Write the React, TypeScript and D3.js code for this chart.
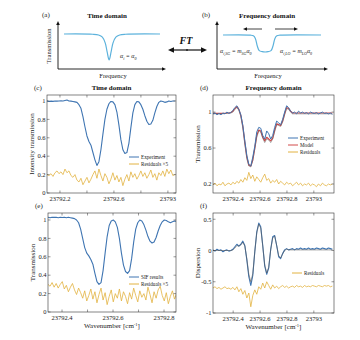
import React from 'react';
import * as d3 from 'd3';

const FONT = '"Liberation Serif", "Times New Roman", serif';
const BLUE = '#3f75b2';
const ORANGE = '#e2b240';
const RED = '#d24a4a';
const GRAY = '#5a5a5a';
const SCHEME = '#5cb2dc';

// schematic curves (normalised 0..1)
const aX = [0, 0.3, 0.36, 0.4, 0.43, 0.45, 0.47, 0.49, 0.51, 0.54, 0.58, 0.64, 1];
const aY = [1, 0.99, 0.96, 0.88, 0.65, 0.3, 0, 0.3, 0.65, 0.88, 0.96, 0.99, 1];
const bX = [0, 0.28, 0.31, 0.33, 0.35, 0.37, 0.4, 0.43, 0.46, 0.49, 0.51, 0.53, 0.55, 0.58, 1];
const bY = [1, 0.99, 0.95, 0.8, 0.35, 0.08, 0.02, 0, 0.02, 0.08, 0.35, 0.8, 0.95, 0.99, 1];

// (c) time domain
const cStart = 23792.104;
const cStep = 0.0148;
const cExperiment = [
  1.0, 0.995, 0.998, 0.996, 1.0, 0.998, 1.0, 1.003, 1.0, 1.005, 1.01, 1.0, 0.998, 0.995, 0.99, 0.985,
  0.96, 0.92, 0.83, 0.72, 0.62, 0.56, 0.52, 0.44, 0.36, 0.3, 0.34, 0.47, 0.64, 0.8, 0.91, 0.97,
  0.995, 0.99, 0.96, 0.88, 0.74, 0.58, 0.47, 0.43, 0.44, 0.54, 0.71, 0.87, 0.96, 0.995, 0.99, 0.96,
  0.91, 0.84, 0.78, 0.745, 0.75, 0.79, 0.87, 0.94, 0.985, 1.0, 0.995, 0.985, 0.99, 1.0, 0.995, 1.0, 1.0,
];
const cResiduals = [
  0.2, 0.19, 0.21, 0.18, 0.22, 0.24, 0.21, 0.23, 0.2, 0.26, 0.22, 0.24, 0.19, 0.17, 0.2, 0.14,
  0.12, 0.16, 0.09, 0.13, 0.17, 0.11, 0.15, 0.2, 0.24, 0.16, 0.26, 0.19, 0.13, 0.21, 0.17, 0.1,
  0.15, 0.22, 0.14, 0.19, 0.12, 0.17, 0.08, 0.15, 0.2, 0.13, 0.23, 0.17, 0.21, 0.15, 0.19, 0.24,
  0.18, 0.22, 0.16, 0.2, 0.25, 0.17, 0.21, 0.14, 0.22, 0.19, 0.24, 0.18, 0.26, 0.21, 0.25, 0.19, 0.2,
];

// (d) frequency domain, transmission
const dStart = 23792.25;
const dStep = 0.0148;
const dExperiment = [
  0.98, 0.99, 0.97, 0.985, 0.97, 0.99, 0.98, 1.0, 0.985, 0.995, 1.02, 1.05, 1.07, 1.03, 0.97, 0.85,
  0.68, 0.52, 0.42, 0.4, 0.5, 0.62, 0.78, 0.83, 0.82, 0.74, 0.7, 0.79, 0.76, 0.7, 0.74, 0.83,
  0.9, 0.88, 0.86, 0.92, 1.0, 1.07, 1.05, 1.01, 0.99, 1.0, 0.98, 1.01, 0.99, 1.0, 0.985, 0.995,
  0.98, 1.0, 0.99, 0.985, 0.995, 0.98, 0.99, 1.0, 0.985, 0.99, 0.98, 0.99, 0.975,
];
const dModel = [
  0.985, 0.985, 0.985, 0.985, 0.985, 0.985, 0.985, 0.99, 0.99, 0.995, 1.01, 1.04, 1.06, 1.03, 0.96, 0.84,
  0.66, 0.5, 0.41, 0.4, 0.47, 0.6, 0.74, 0.8, 0.79, 0.72, 0.68, 0.72, 0.7, 0.68, 0.71, 0.8,
  0.87, 0.86, 0.85, 0.9, 0.98, 1.05, 1.04, 1.01, 0.99, 0.99, 0.99, 0.99, 0.99, 0.99, 0.99, 0.99,
  0.99, 0.99, 0.99, 0.99, 0.99, 0.99, 0.99, 0.99, 0.99, 0.99, 0.99, 0.99, 0.99,
];
const dFit = [
  0.98, 0.98, 0.98, 0.98, 0.98, 0.98, 0.985, 0.985, 0.99, 0.99, 1.0, 1.03, 1.05, 1.02, 0.95, 0.82,
  0.64, 0.48, 0.4, 0.39, 0.46, 0.59, 0.72, 0.79, 0.78, 0.71, 0.66, 0.7, 0.69, 0.66, 0.7, 0.78,
  0.86, 0.85, 0.84, 0.89, 0.97, 1.04, 1.03, 1.0, 0.98, 0.98, 0.98, 0.98, 0.98, 0.98, 0.98, 0.98,
  0.98, 0.98, 0.98, 0.98, 0.98, 0.98, 0.98, 0.98, 0.98, 0.98, 0.98, 0.98, 0.98,
];
const dResiduals = [
  0.19, 0.21, 0.18, 0.2, 0.19, 0.22, 0.18, 0.2, 0.21, 0.19, 0.22, 0.2, 0.23, 0.21, 0.25, 0.22,
  0.27, 0.24, 0.33, 0.26, 0.3, 0.23, 0.28, 0.25, 0.22, 0.27, 0.31, 0.24, 0.26, 0.21, 0.24, 0.22,
  0.25, 0.2, 0.23, 0.21, 0.19, 0.22, 0.2, 0.21, 0.18, 0.2, 0.22, 0.19, 0.21, 0.18, 0.2, 0.19,
  0.21, 0.18, 0.2, 0.19, 0.17, 0.2, 0.18, 0.21, 0.19, 0.18, 0.2, 0.19, 0.2,
];

// (e) SIF results
const eStart = 23792.345;
const eStep = 0.008;
const eSif = [
  1.03, 1.025, 1.03, 1.028, 1.03, 1.025, 1.03, 1.027, 1.03, 1.025, 1.03, 1.025, 1.02, 1.015, 1.0, 0.97,
  0.9, 0.8, 0.7, 0.64, 0.61, 0.57, 0.52, 0.42, 0.33, 0.3, 0.32, 0.45, 0.64, 0.82, 0.94, 0.99,
  1.0, 0.98, 0.92, 0.8, 0.64, 0.51, 0.44, 0.42, 0.45, 0.58, 0.76, 0.9, 0.97, 1.0, 0.99, 0.95,
  0.89, 0.82, 0.77, 0.75, 0.76, 0.81, 0.88, 0.94, 0.98, 1.0, 0.995, 0.98, 0.97, 0.98, 0.99, 0.985,
];
const eResiduals = [
  0.3, 0.28, 0.32, 0.27, 0.31, 0.26, 0.3, 0.33, 0.25, 0.29, 0.22, 0.27, 0.31, 0.24, 0.19, 0.26,
  0.21, 0.15, 0.23, 0.12, 0.18, 0.25, 0.14, 0.22, 0.1, 0.19, 0.26, 0.13, 0.21, 0.08, 0.17, 0.24,
  0.11, 0.2, 0.15, 0.25, 0.12, 0.22, 0.17, 0.09, 0.21, 0.14, 0.26, 0.18, 0.11, 0.23, 0.16, 0.2,
  0.13, 0.27, 0.19, 0.1, 0.22, 0.15, 0.24, 0.28, 0.18, 0.12, 0.21, 0.09, 0.17, 0.23, 0.14, 0.2,
];

// (f) dispersion
const fExperiment = [
  0.01, -0.01, 0.02, 0.0, 0.01, -0.02, 0.0, 0.01, -0.01, 0.0, 0.02, 0.06, 0.1, 0.07, 0.1, 0.15,
  0.08, -0.15, -0.42, -0.56, -0.4, -0.02, 0.3, 0.44, 0.38, 0.08, -0.25, -0.38, -0.28, 0.02, 0.22, 0.24,
  0.08, -0.1, -0.13, -0.05, 0.01, 0.03, 0.01, 0.02, 0.03, 0.01, 0.03, 0.02, 0.04, 0.02, 0.03, 0.02,
  0.04, 0.02, 0.03, 0.02, 0.04, 0.03, 0.02, 0.04, 0.03, 0.02, 0.04, 0.03, 0.02,
];
const fModel = [
  0, 0, 0, 0, 0, 0, 0, 0, 0, 0, 0.01, 0.04, 0.08, 0.07, 0.09, 0.13,
  0.07, -0.13, -0.38, -0.5, -0.37, -0.02, 0.28, 0.42, 0.36, 0.07, -0.23, -0.36, -0.27, 0.01, 0.2, 0.23,
  0.08, -0.08, -0.12, -0.05, 0.0, 0.02, 0.01, 0.01, 0.01, 0.01, 0.01, 0.01, 0.01, 0.01, 0.01, 0.01,
  0.01, 0.01, 0.01, 0.01, 0.01, 0.01, 0.01, 0.01, 0.01, 0.01, 0.01, 0.01, 0.01,
];
const fResiduals = [
  -0.6, -0.58, -0.61, -0.59, -0.62, -0.6, -0.58, -0.61, -0.6, -0.62, -0.59, -0.63, -0.58, -0.66, -0.61, -0.7,
  -0.64, -0.76, -0.68, -0.9, -0.72, -0.63, -0.7, -0.58, -0.62, -0.52, -0.6, -0.5, -0.56, -0.62, -0.55, -0.6,
  -0.57, -0.61, -0.58, -0.56, -0.59, -0.57, -0.6, -0.58, -0.57, -0.59, -0.56, -0.58, -0.57, -0.59, -0.56, -0.58,
  -0.57, -0.58, -0.56, -0.57, -0.58, -0.56, -0.57, -0.58, -0.56, -0.57, -0.56, -0.58, -0.57,
];

const cTicksX = [23792.2, 23792.4, 23792.6, 23792.8, 23793];
const cLabelsX = [23792.2, 23792.6, 23793];
const dTicksX = [23792.4, 23792.6, 23792.8, 23793];
const eTicksX = [23792.4, 23792.5, 23792.6, 23792.7, 23792.8];
const eLabelsX = [23792.4, 23792.6, 23792.8];
const transTicks = [0, 0.2, 0.4, 0.6, 0.8, 1];
const dTicksY = [0.2, 0.6, 1];
const fTicksY = [-1, -0.5, 0, 0.5];

type Series = { values: number[]; color: string; width: number };
type Legend = { label: string; color: string }[];

const fmt = (v: number) => String(Math.round(v * 10) / 10);

function Panel(props: {
  left: number; top: number; right: number; bottom: number;
  xDomain: [number, number]; yDomain: [number, number];
  xStart: number; xStep: number;
  xTicks: number[]; xLabels: number[]; yTicks: number[];
  series: Series[]; legend: Legend; legendX: number; legendY: number;
  tag: string; title?: string; yLabel: string; xLabel?: string;
}) {
  const { left, top, right, bottom } = props;
  const x = d3.scaleLinear().domain(props.xDomain).range([left, right]);
  const y = d3.scaleLinear().domain(props.yDomain).range([bottom, top]);
  const line = d3.line<number>()
    .x((_, i) => x(props.xStart + i * props.xStep))
    .y(d => y(d));
  const clipId = 'clip' + props.tag.replace(/\W/g, '');
  const tk = 2.5;
  return (
    <g>
      <clipPath id={clipId}>
        <rect x={left} y={top} width={right - left} height={bottom - top} />
      </clipPath>
      <g clipPath={`url(#${clipId})`}>
        {props.series.map((s, i) => (
          <path key={i} d={line(s.values) || ''} fill="none" stroke={s.color} strokeWidth={s.width} strokeLinejoin="round" />
        ))}
      </g>
      <rect x={left} y={top} width={right - left} height={bottom - top} fill="none" stroke="#333" strokeWidth={0.6} />
      {props.xTicks.map(t => (
        <g key={'x' + t}>
          <line x1={x(t)} x2={x(t)} y1={bottom} y2={bottom - tk} stroke="#333" strokeWidth={0.5} />
          <line x1={x(t)} x2={x(t)} y1={top} y2={top + tk} stroke="#333" strokeWidth={0.5} />
        </g>
      ))}
      {props.xLabels.map(t => (
        <text key={'xl' + t} x={x(t)} y={bottom + 8} fontSize={6.5} textAnchor="middle" fill="#222">{fmt(t)}</text>
      ))}
      {props.yTicks.map(t => (
        <g key={'y' + t}>
          <line x1={left} x2={left + tk} y1={y(t)} y2={y(t)} stroke="#333" strokeWidth={0.5} />
          <line x1={right} x2={right - tk} y1={y(t)} y2={y(t)} stroke="#333" strokeWidth={0.5} />
          <text x={left - 1.5} y={y(t) + 2.3} fontSize={6.5} textAnchor="end" fill="#222">{fmt(t)}</text>
        </g>
      ))}
      {props.legend.map((l, i) => (
        <g key={'lg' + i}>
          <line x1={props.legendX} x2={props.legendX + 10} y1={props.legendY + i * 7} y2={props.legendY + i * 7} stroke={l.color} strokeWidth={1} />
          <text x={props.legendX + 12} y={props.legendY + i * 7 + 1.8} fontSize={5.2} fill="#222">{l.label}</text>
        </g>
      ))}
      <text x={left - 13} y={top - 5} fontSize={7} fill="#222">{props.tag}</text>
      {props.title && (
        <text x={(left + right) / 2} y={top - 5} fontSize={7} fontWeight="bold" textAnchor="middle" fill="#111">{props.title}</text>
      )}
      <text transform={`translate(${left - 13},${(top + bottom) / 2}) rotate(-90)`} fontSize={7} textAnchor="middle" fill="#222">{props.yLabel}</text>
      {props.xLabel && (
        <text x={(left + right) / 2} y={bottom + 16} fontSize={7} textAnchor="middle" fill="#222">
          Wavenumber [cm<tspan dy={-2.5} fontSize={4.5}>-1</tspan><tspan dy={2.5}>]</tspan>
        </text>
      )}
    </g>
  );
}

function Arrow({ x1, y1, x2, y2, w = 0.9, head = 4 }: { x1: number; y1: number; x2: number; y2: number; w?: number; head?: number }) {
  const ang = Math.atan2(y2 - y1, x2 - x1);
  const hx = x2 - head * Math.cos(ang);
  const hy = y2 - head * Math.sin(ang);
  const px = -Math.sin(ang) * head * 0.45;
  const py = Math.cos(ang) * head * 0.45;
  return (
    <g>
      <line x1={x1} y1={y1} x2={hx} y2={hy} stroke="#111" strokeWidth={w} />
      <path d={`M${x2},${y2}L${hx + px},${hy + py}L${hx - px},${hy - py}Z`} fill="#111" />
    </g>
  );
}

function Alpha({ x, y, sub, m }: { x: number; y: number; sub: string; m?: string }) {
  return (
    <text x={x} y={y} fontSize={6} fontStyle="italic" fill="#222">
      α<tspan dy={1.5} fontSize={4}>{sub}</tspan>
      <tspan dy={-1.5}>{m ? ' = m' : ' = α'}</tspan>
      {m ? (
        <>
          <tspan dy={1.5} fontSize={4}>{m}</tspan>
          <tspan dy={-1.5}>α</tspan>
          <tspan dy={1.5} fontSize={4}>0</tspan>
        </>
      ) : (
        <tspan dy={1.5} fontSize={4}>0</tspan>
      )}
    </text>
  );
}

export default function App() {
  const ax = d3.scaleLinear().domain([0, 1]).range([64, 160]);
  const ay = d3.scaleLinear().domain([0, 1]).range([60, 34]);
  const bx = d3.scaleLinear().domain([0, 1]).range([223, 321]);
  const by = d3.scaleLinear().domain([0, 1]).range([52, 35]);
  const aLine = d3.line<number>().x((_, i) => ax(aX[i])).y(d => ay(d)).curve(d3.curveCatmullRom);
  const bLine = d3.line<number>().x((_, i) => bx(bX[i])).y(d => by(d)).curve(d3.curveCatmullRom);

  return (
    <svg width={360} height={340} style={{ position: 'absolute', left: 0, top: 0, background: '#fff' }} fontFamily={FONT}>
      {/* (a) */}
      <text x={42} y={17} fontSize={7} fill="#222">(a)</text>
      <text x={107} y={18} fontSize={7} fontWeight="bold" textAnchor="middle" fill="#111">Time domain</text>
      <Arrow x1={58} y1={69} x2={58} y2={21} />
      <Arrow x1={58} y1={69} x2={166} y2={69} />
      <text transform="translate(51,46) rotate(-90)" fontSize={6.5} textAnchor="middle" fill="#222">Transmission</text>
      <text x={113} y={78} fontSize={6.5} textAnchor="middle" fill="#222">Frequency</text>
      <path d={aLine(aY) || ''} fill="none" stroke={SCHEME} strokeWidth={1.2} />
      <Alpha x={120} y={58} sub="i" />

      {/* FT */}
      <text x={186} y={44} fontSize={10} fontWeight="bold" fontStyle="italic" textAnchor="middle" fill="#111">FT</text>
      <Arrow x1={188} y1={50} x2={168} y2={50} w={1.2} head={6} />
      <Arrow x1={186} y1={50} x2={207} y2={50} w={1.2} head={6} />

      {/* (b) */}
      <text x={202} y={17} fontSize={7} fill="#222">(b)</text>
      <text x={267} y={18} fontSize={7} fontWeight="bold" textAnchor="middle" fill="#111">Frequency domain</text>
      <Arrow x1={217} y1={69} x2={217} y2={21} />
      <Arrow x1={217} y1={69} x2={328} y2={69} />
      <text x={268} y={78} fontSize={6.5} textAnchor="middle" fill="#222">Frequency</text>
      <path d={bLine(bY) || ''} fill="none" stroke={SCHEME} strokeWidth={1.2} />
      <Arrow x1={262} y1={29} x2={243} y2={29} w={0.8} head={4} />
      <Arrow x1={275} y1={29} x2={298} y2={29} w={0.8} head={4} />
      <Alpha x={220} y={53} sub="i,SG" m="SG" />
      <Alpha x={280} y={53} sub="i,LO" m="LO" />

      <Panel left={47} top={95} right={176} bottom={193}
        xDomain={[23792.104, 23793.06]} yDomain={[0, 1.065]}
        xStart={cStart} xStep={cStep}
        xTicks={cTicksX} xLabels={cLabelsX} yTicks={transTicks}
        series={[
          { values: cResiduals, color: ORANGE, width: 0.8 },
          { values: cExperiment, color: BLUE, width: 1.1 },
        ]}
        legend={[{ label: 'Experiment', color: BLUE }, { label: 'Residuals ×5', color: ORANGE }]}
        legendX={129} legendY={157}
        tag="(c)" title="Time domain" yLabel="Intensity transmission" />

      <Panel left={213} top={95} right={334} bottom={193}
        xDomain={[23792.25, 23793.15]} yDomain={[0.1, 1.19]}
        xStart={dStart} xStep={dStep}
        xTicks={dTicksX} xLabels={dTicksX} yTicks={dTicksY}
        series={[
          { values: dResiduals, color: ORANGE, width: 0.8 },
          { values: dModel, color: RED, width: 1.2 },
          { values: dFit, color: GRAY, width: 0.45 },
          { values: dExperiment, color: BLUE, width: 1.0 },
        ]}
        legend={[
          { label: 'Experiment', color: BLUE },
          { label: 'Model', color: RED },
          { label: 'Residuals', color: ORANGE },
        ]}
        legendX={288} legendY={138}
        tag="(d)" title="Frequency domain" yLabel="Transmission" />

      <Panel left={48} top={213} right={176} bottom={312}
        xDomain={[23792.345, 23792.847]} yDomain={[0, 1.076]}
        xStart={eStart} xStep={eStep}
        xTicks={eTicksX} xLabels={eLabelsX} yTicks={transTicks}
        series={[
          { values: eResiduals, color: ORANGE, width: 0.8 },
          { values: eSif, color: BLUE, width: 1.1 },
        ]}
        legend={[{ label: 'SIF results', color: BLUE }, { label: 'Residuals ×5', color: ORANGE }]}
        legendX={129} legendY={277}
        tag="(e)" yLabel="Transmission" xLabel="yes" />

      <Panel left={213} top={213} right={334} bottom={313}
        xDomain={[23792.25, 23793.15]} yDomain={[-1, 0.6]}
        xStart={dStart} xStep={dStep}
        xTicks={dTicksX} xLabels={dTicksX} yTicks={fTicksY}
        series={[
          { values: fResiduals, color: ORANGE, width: 0.8 },
          { values: fExperiment, color: BLUE, width: 1.1 },
          { values: fModel, color: GRAY, width: 0.6 },
        ]}
        legend={[{ label: 'Residuals', color: ORANGE }]}
        legendX={292} legendY={273}
        tag="(f)" yLabel="Dispersion" xLabel="yes" />
    </svg>
  );
}
